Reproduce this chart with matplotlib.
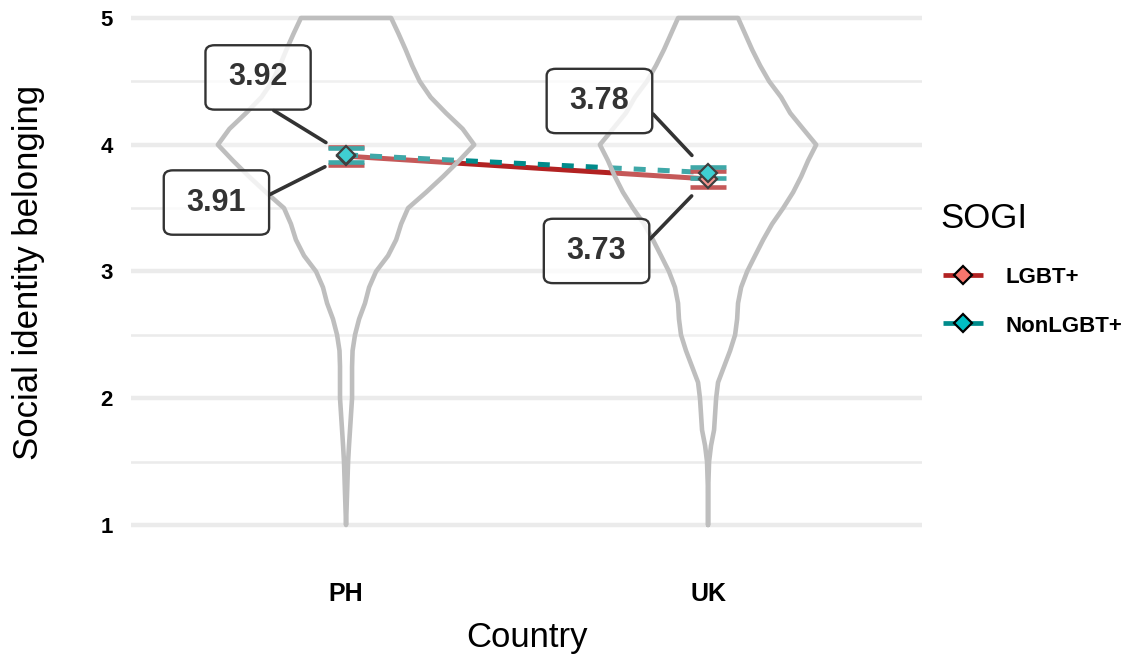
import numpy as np
import matplotlib
matplotlib.use("Agg")
import matplotlib.pyplot as plt
from matplotlib.lines import Line2D

plt.rcParams['font.family'] = ['Liberation Sans', 'DejaVu Sans']

# ---- data ---------------------------------------------------------------
countries = ["PH", "UK"]
groups = ["LGBT+", "NonLGBT+"]
means_lgbt = [3.91, 3.73]
means_nonlgbt = [3.92, 3.78]
se_lgbt = [0.072, 0.062]
se_nonlgbt = [0.053, 0.045]

# violin density profiles (relative, shared area scale) on a 1..5 grid
density_grid = np.linspace(1.0, 5.0, 33)
density_ph = [0.0, 0.004, 0.008, 0.012, 0.016, 0.023, 0.031, 0.039, 0.047,
              0.047, 0.047, 0.051, 0.070, 0.102, 0.148, 0.180, 0.234, 0.328,
              0.391, 0.430, 0.484, 0.625, 0.758, 0.883, 1.0, 0.910, 0.780,
              0.660, 0.575, 0.516, 0.465, 0.410, 0.352]
density_uk = [0.0, 0.0, 0.0, 0.004, 0.008, 0.023, 0.047, 0.055, 0.063,
              0.078, 0.125, 0.172, 0.211, 0.227, 0.234, 0.258, 0.305, 0.367,
              0.430, 0.500, 0.586, 0.664, 0.727, 0.781, 0.844, 0.742, 0.641,
              0.570, 0.477, 0.406, 0.344, 0.289, 0.234]
y_ticks = [1, 2, 3, 4, 5]

# ---- styling ------------------------------------------------------------
W, H = 1138, 659
line_colors = {"LGBT+": "#B22222", "NonLGBT+": "#008B8B"}
fill_colors = {"LGBT+": "#F8766D", "NonLGBT+": "#00BFC4"}
violin_halfwidth = 0.354
text_dark = "#333333"

fig = plt.figure(figsize=(W / 100, H / 100), dpi=100)
ax = fig.add_axes([131 / W, 1 - 550.35 / H, 791 / W, 545.05 / H])
ax.set_xlim(0.406, 2.591)
ax.set_ylim(0.8, 5.1)

for s in ax.spines.values():
    s.set_visible(False)
ax.set_yticks(y_ticks)
ax.set_yticks([1.5, 2.5, 3.5, 4.5], minor=True)
ax.set_yticklabels([str(t) for t in y_ticks], fontsize=16, fontweight='bold')
ax.set_xticks([1, 2])
ax.set_xticklabels(countries, fontsize=18, fontweight='bold')
ax.tick_params(axis='both', which='both', length=0)
ax.tick_params(axis='y', pad=13)
ax.tick_params(axis='x', pad=23)
ax.set_axisbelow(True)
ax.grid(axis='y', which='major', color='#EBEBEB', lw=3.2)
ax.grid(axis='y', which='minor', color='#EBEBEB', lw=1.8)
ax.grid(axis='x', visible=False)

x_pos = np.arange(1, len(countries) + 1)
series = {"LGBT+": (means_lgbt, se_lgbt), "NonLGBT+": (means_nonlgbt, se_nonlgbt)}

# mean lines
ax.plot(x_pos, means_lgbt, color=line_colors["LGBT+"], lw=3.6,
        solid_capstyle='butt', zorder=2)
ax.plot(x_pos, means_nonlgbt, color=line_colors["NonLGBT+"], lw=3.6,
        ls=(0, (2.4, 2.4)), dash_capstyle='butt', zorder=2.1)

# error bars and mean markers
for z, g in enumerate(groups):
    m, e = series[g]
    ax.errorbar(x_pos, m, yerr=e, fmt='none', ecolor=line_colors[g],
                elinewidth=2.8, capsize=13, capthick=3.3, zorder=2.2 + z * 0.01)
for z, g in enumerate(groups):
    m, _ = series[g]
    ax.plot(x_pos, m, ls='none', marker='D', ms=9.5, mfc=fill_colors[g],
            mec='black', mew=1.6, zorder=3 + z * 0.01)

# violins (light white wash over the interior)
for c, dens in zip(x_pos, [density_ph, density_uk]):
    hw = np.asarray(dens) * violin_halfwidth
    xs = np.concatenate([c + hw, (c - hw)[::-1]])
    ys = np.concatenate([density_grid, density_grid[::-1]])
    ax.fill(xs, ys, facecolor=(1, 1, 1, 0.25), edgecolor='#BEBEBE',
            lw=3.3, joinstyle='round', zorder=4)

# value labels: (box centre x, box centre y, segment anchor on text)
label_layout = {
    ("PH", "NonLGBT+"): (0.757, 4.531, (0.27, 0.0)),
    ("PH", "LGBT+"): (0.642, 3.544, (1.0, 0.37)),
    ("UK", "NonLGBT+"): (1.700, 4.345, (1.0, 0.91)),
    ("UK", "LGBT+"): (1.692, 3.162, (1.0, 0.08)),
}
for i, ctry in enumerate(countries):
    for g in groups:
        val = series[g][0][i]
        lx, ly, rp = label_layout[(ctry, g)]
        ax.annotate(f"{val:.2f}", xy=(x_pos[i], val), xytext=(lx, ly),
                    textcoords='data', ha='center', va='center',
                    fontsize=22, fontweight='bold', color=text_dark, zorder=5,
                    bbox=dict(boxstyle='round,pad=0.75,rounding_size=0.3',
                              mutation_aspect=0.75, fc=(1, 1, 1, 0.8),
                              ec=text_dark, lw=1.7),
                    arrowprops=dict(arrowstyle='-', color=text_dark, lw=2.6,
                                    shrinkA=0, shrinkB=17, relpos=rp))

# axis titles
fig.text(527 / W, 1 - 647 / H, "Country", fontsize=25, ha='center', va='baseline')
fig.text(29 / W, 1 - 272 / H, "Social identity belonging", fontsize=25,
         rotation=90, ha='center', va='center')

# legend
fig.text(940 / W, 1 - 228 / H, "SOGI", fontsize=25, ha='left', va='baseline')
for g, ybase, ykey in [("LGBT+", 283, 275), ("NonLGBT+", 332, 323)]:
    fig.text(1006 / W, 1 - ybase / H, g, fontsize=16, fontweight='bold',
             ha='left', va='baseline')
    fig.add_artist(Line2D([943 / W, 983 / W], [1 - ykey / H] * 2,
                          transform=fig.transFigure, color=line_colors[g],
                          lw=3.4, solid_capstyle='butt'))
    fig.add_artist(Line2D([963 / W], [1 - ykey / H], transform=fig.transFigure,
                          ls='none', marker='D', ms=9.5, mfc=fill_colors[g],
                          mec='black', mew=1.6))

fig.savefig("out.png", dpi=100)
